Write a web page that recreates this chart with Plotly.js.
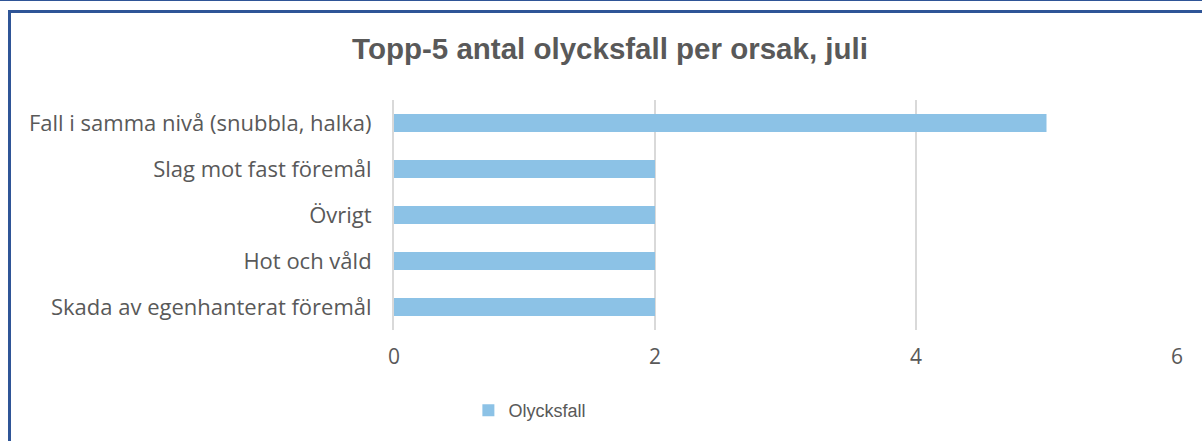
<!DOCTYPE html>
<html>
<head>
<meta charset="utf-8">
<script src="https://cdn.plot.ly/plotly-3.0.1.min.js"></script>
<style>
  html, body { margin: 0; padding: 0; background: #fff; }
  #wrap { position: relative; width: 1202px; height: 441px; overflow: hidden; }
  #chart { position: absolute; left: 0; top: 0; width: 1202px; height: 441px; }
  .edge { position: absolute; background: #2F5597; }
</style>
</head>
<body>
<div id="wrap">
  <div id="chart"></div>
  <!-- frame lines around the chart -->
  <div class="edge" style="left:0;top:0;width:1202px;height:1px;"></div>
  <div class="edge" style="left:8px;top:10px;width:1194px;height:3px;"></div>
  <div class="edge" style="left:8px;top:10px;width:3px;height:431px;"></div>
</div>
<script>
// Categories (top to bottom) and values
const causes = [
  'Fall i samma nivå (snubbla, halka)',
  'Slag mot fast föremål',
  'Övrigt',
  'Hot och våld',
  'Skada av egenhanterat föremål'
];
const accidents = [5, 2, 2, 2, 2];
const xTicks = [0, 2, 4, 6];

const textFont = 'Open Sans, Liberation Sans, Arial, sans-serif';

Plotly.newPlot('chart', [{
  type: 'bar',
  orientation: 'h',
  name: 'Olycksfall',
  y: causes,
  x: accidents,
  marker: { color: '#8CC2E6' },
  hoverinfo: 'x+y'
}], {
  width: 1202,
  height: 441,
  margin: { l: 394, r: 25, t: 100, b: 111 },
  paper_bgcolor: '#fff',
  plot_bgcolor: '#fff',
  bargap: 0.61,
  title: {
    text: '<b>Topp-5 antal olycksfall per orsak, juli</b>',
    x: 0.5075, xref: 'container',
    y: 0.89, yref: 'container', yanchor: 'middle',
    font: { family: 'Liberation Sans, Arial, sans-serif', size: 29.5, color: '#595959' }
  },
  xaxis: {
    range: [0, 6],
    tickvals: xTicks,
    showgrid: true,
    gridcolor: '#D9D9D9',
    gridwidth: 2,
    zeroline: false,
    showline: false,
    ticks: '',
    ticklabelstandoff: 12,
    tickfont: { family: textFont, size: 21, color: '#595959' }
  },
  yaxis: {
    autorange: 'reversed',
    showgrid: false,
    zeroline: false,
    showline: true,
    linecolor: '#D9D9D9',
    linewidth: 2,
    ticks: '',
    ticklabelstandoff: 16,
    tickfont: { family: textFont, size: 22, color: '#595959' }
  },
  showlegend: true,
  legend: {
    orientation: 'h',
    x: 0.095, xanchor: 'left',
    y: -0.35, yanchor: 'middle',
    itemwidth: 30,
    font: { family: 'Liberation Sans, Arial, sans-serif', size: 18, color: '#595959' }
  }
}, { displayModeBar: false, staticPlot: true });
</script>
</body>
</html>
